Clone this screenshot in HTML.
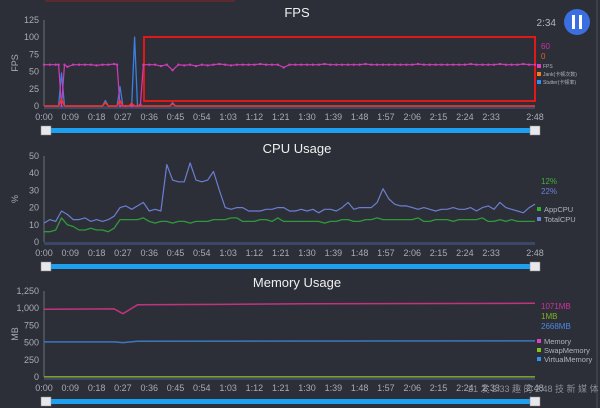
<!DOCTYPE html>
<html><head><meta charset="utf-8"><style>
html,body{margin:0;padding:0;background:#2d2f38;width:600px;height:408px;overflow:hidden}
svg{display:block;font-family:"Liberation Sans","Noto Sans CJK SC",sans-serif}
</style></head><body>
<svg id="s" width="600" height="408" viewBox="0 0 600 408">
<rect x="0" y="0" width="600" height="408" fill="#2d2f38"/>
<rect x="45" y="0" width="190" height="2" fill="#5a2a30"/>
<line x1="597" y1="0" x2="597" y2="408" stroke="#4a4d58" stroke-width="1"/>
<text x="297" y="17" fill="#f0f0f0" font-size="13" text-anchor="middle">FPS</text>
<text x="297" y="153" fill="#f0f0f0" font-size="13" text-anchor="middle">CPU Usage</text>
<text x="297" y="287" fill="#f0f0f0" font-size="13" text-anchor="middle">Memory Usage</text>
<text x="556" y="26" fill="#b0b3bd" font-size="10" text-anchor="end">2:34</text>
<g>
<circle cx="577" cy="22" r="13" fill="#3b6fe0"/>
<rect x="572" y="15" width="3" height="14" fill="#fff"/><rect x="579" y="15" width="3" height="14" fill="#fff"/>
</g>
<rect x="144" y="37" width="391" height="64" fill="none" stroke="#e01818" stroke-width="2"/>
<text x="541" y="49" fill="#d030a0" font-size="8">60</text>
<text x="541" y="59" fill="#e06020" font-size="8">0</text>
<g font-size="5" fill="#b0b3bd">
<rect x="537" y="64" width="4" height="4" fill="#e040c0"/><text x="543" y="68">FPS</text>
<rect x="537" y="72" width="4" height="4" fill="#f08020"/><text x="543" y="76">Jank(卡顿次数)</text>
<rect x="537" y="80" width="4" height="4" fill="#3090f0"/><text x="543" y="84">Stutter(卡顿率)</text>
</g>
<text x="541" y="184" fill="#40b040" font-size="8">12%</text>
<text x="541" y="194" fill="#6d80d8" font-size="8">22%</text>
<g font-size="7.5" fill="#b0b3bd">
<rect x="537" y="207" width="4" height="4" fill="#30b030"/><text x="544" y="212">AppCPU</text>
<rect x="537" y="217" width="4" height="4" fill="#6d80d8"/><text x="544" y="222">TotalCPU</text>
</g>
<text x="541" y="309" fill="#d030a0" font-size="8">1071MB</text>
<text x="541" y="319" fill="#80b020" font-size="8">1MB</text>
<text x="541" y="329" fill="#4a88e0" font-size="8">2668MB</text>
<g font-size="7.5" fill="#b0b3bd">
<rect x="537" y="339" width="4" height="4" fill="#e040c0"/><text x="544" y="344">Memory</text>
<rect x="537" y="348" width="4" height="4" fill="#80c020"/><text x="544" y="353">SwapMemory</text>
<rect x="537" y="357" width="4" height="4" fill="#3090f0"/><text x="544" y="362">VirtualMemory</text>
</g>
<text x="468" y="392" fill="#8a8d96" font-size="9">21 发 2:33 趣 的 2:48 技 新 媒 体</text>
</svg>
<script>
const timeTicks=[0,9,18,27,36,45,54,63,72,81,90,99,108,117,126,135,144,153,168];
const fpsYTicks=[0,25,50,75,100,125];
const cpuYTicks=[0,10,20,30,40,50];
const memYTicks=[0,250,500,750,1000,1250];
const fpsTimes=[0,2,4,5,6,7,8,10,12,14,16,18,20,22,24,25,26,28,30,32,33,34,36,38,40,42,44,46,48,50,52,54,56,58,60,62,64,66,68,70,72,74,76,78,80,82,84,86,88,90,92,94,96,98,100,102,104,106,108,110,112,114,116,118,120,122,124,126,128,130,132,134,136,138,140,142,144,146,148,150,152,154,156,158,160,162,164,166,168];
const fpsValues=[60,60,60,60,0,60,57,60,60,60,60,59,60,60,61,60,0,0,0,0,2,60,60,60,58,60,52,60,59,60,58,60,59,60,61,60,59,60,60,60,60,61,60,60,60,56,60,60,60,60,60,60,61,60,60,60,60,60,60,61,60,60,60,60,60,60,60,60,61,60,60,60,60,60,60,60,60,61,60,60,60,60,61,60,60,60,61,60,60];
const jankTimes=[0,5,6,7,20,21,22,25,26,27,29,30,31,43,44,45,168];
const jankValues=[0,0,10,0,0,5,0,0,8,0,0,4,0,0,3,0,0];
const stutterTimes=[0,5,6,7,20,21,22,25,26,27,30,31,32,43,44,45,168];
const stutterValues=[0,0,48,0,0,8,0,0,28,0,0,100,0,0,5,0,0];
const cpuTimes=[0,2,4,6,8,10,12,14,16,18,20,22,24,26,28,30,32,34,36,38,40,42,44,46,48,50,52,54,56,58,60,62,64,66,68,70,72,74,76,78,80,82,84,86,88,90,92,94,96,98,100,102,104,106,108,110,112,114,116,118,120,122,124,126,128,130,132,134,136,138,140,142,144,146,148,150,152,154,156,158,160,162,164,166,168];
const totalCpu=[11,13,12,18,16,13,13,14,12,13,12,13,15,20,21,19,21,23,18,19,18,45,36,35,35,46,36,35,36,41,30,20,19,20,20,18,18,18,19,19,20,20,18,18,19,18,19,17,19,19,18,20,23,19,20,20,20,23,31,25,22,21,21,20,19,20,19,18,19,19,20,19,19,20,18,20,21,19,23,20,19,18,17,20,22];
const appCpu=[6,6,7,14,10,9,7,7,8,7,7,6,8,13,13,13,13,14,12,11,12,12,11,12,12,11,12,12,12,13,13,13,14,14,12,12,12,13,13,12,14,12,12,12,12,12,12,12,11,12,12,13,13,12,12,13,13,14,13,13,13,13,13,13,14,12,12,13,13,13,12,13,13,13,13,14,12,12,13,12,13,12,12,12,12];
const memTimes=[0,24,27,32,60,90,168];
const memValues=[985,990,920,1050,1055,1065,1071];
const virtTimes=[0,24,27,32,168];
const virtValues=[510,510,500,520,525];
const swapTimes=[0,168];
const swapValues=[5,5];

const svg=document.getElementById('s');
const NS='http://www.w3.org/2000/svg';
function mk(tag,attrs,parent){const e=document.createElementNS(NS,tag);for(const k in attrs)e.setAttribute(k,attrs[k]);(parent||svg).appendChild(e);return e;}
const X0=44,X1=535;
function xs(t){return X0+t/168*(X1-X0);}
function fmt(t){return Math.floor(t/60)+':'+String(t%60).padStart(2,'0');}

function chart(name,y0,yTop,vmax,ticks,yTitle,tickFmt){
  const ys=v=>y0-v/vmax*(y0-yTop);
  const g=mk('g',{});
  
  
  const ax=mk('line',{x1:X0,y1:yTop,x2:X0,y2:y0,stroke:'#6a6d78','stroke-width':1},g);
  
  
  const xb=mk('rect',{x:X0,y:y0,width:X1-X0,height:3,fill:'#3a4866'},g);
  
  
  ticks.forEach(v=>{
    const t=mk('text',{x:X0-5,y:ys(v)+3,fill:'#a8abb5','font-size':9,'text-anchor':'end'},g);
    t.textContent=tickFmt?tickFmt(v):v;
    
    
  });
  const tt=mk('text',{x:18,y:(y0+yTop)/2,fill:'#a8abb5','font-size':9,'text-anchor':'middle',transform:'rotate(-90 18 '+((y0+yTop)/2)+')'},g);
  tt.textContent=yTitle;
  
  
  timeTicks.forEach(t=>{
    const l=mk('text',{x:xs(t),y:y0+14,fill:'#a8abb5','font-size':9,'text-anchor':'middle'},g);
    l.textContent=fmt(t);
    
    
  });
  const sy=y0+24;
  const bar=mk('rect',{x:X0+6,y:sy-2,width:X1-X0-6,height:5,fill:'#1ea0f0'},g);
  
  
  [X0-3,X1-5].forEach((hx,i)=>{
    const h=mk('rect',{x:hx,y:sy-4,width:10,height:9,fill:'#e8e8ec',stroke:'#888',"stroke-width":0.5},g);
    
    
  });
  return {g,ys};
}
function line(c,ts,vs,color,nm,w,dots){
  const d=ts.map((t,i)=>(i?'L':'M')+xs(t).toFixed(1)+','+c.ys(vs[i]).toFixed(1)).join('');
  const p=mk('path',{d:d,fill:'none',stroke:color,'stroke-width':w||1.2,'stroke-linejoin':'round'},c.g);
  
  
  if(dots){ts.forEach((t,i)=>{const ci=mk('circle',{cx:xs(t),cy:c.ys(vs[i]),r:1.2,fill:color},c.g);
    
    });}
}
const f=chart('fps',106,20,125,fpsYTicks,'FPS');
line(f,stutterTimes,stutterValues,'#3a80e0','stutter-line',1.3);
line(f,fpsTimes,fpsValues,'#d03cb8','fps-line',1.2,true);
line(f,jankTimes,jankValues,'#ff3020','jank-line',1.5);
const c=chart('cpu',242,156,50,cpuYTicks,'%');
line(c,cpuTimes,appCpu,'#2f9a3a','appcpu-line',1.3);
line(c,cpuTimes,totalCpu,'#6b7ed0','totalcpu-line',1.2);
const m=chart('memory',377,291,1250,memYTicks,'MB',v=>v.toLocaleString('en-US'));
line(m,swapTimes,swapValues,'#7fa020','swap-line',1.5);
line(m,virtTimes,virtValues,'#3a78c0','virtual-memory-line',1.5);
line(m,memTimes,memValues,'#c0347e','memory-line',1.5);
</script>
</body></html>
